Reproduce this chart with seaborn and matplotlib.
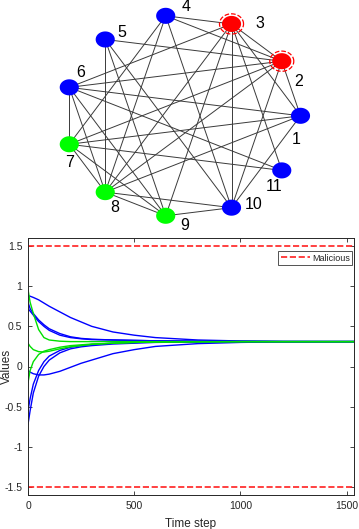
import numpy as np
import pandas as pd
import matplotlib
matplotlib.use('Agg')
import matplotlib.pyplot as plt
import seaborn as sns

# ---- network data ----
node_ids = [1, 2, 3, 4, 5, 6, 7, 8, 9, 10, 11]
node_roles = ['normal', 'malicious', 'malicious', 'normal', 'normal', 'normal',
              'leader', 'leader', 'leader', 'normal', 'normal']
edges = [(1, 2), (1, 3), (1, 6), (1, 7), (1, 8), (1, 10),
         (2, 3), (2, 4), (2, 5), (2, 6), (2, 7), (2, 8), (2, 10),
         (3, 4), (3, 6), (3, 8), (3, 9), (3, 10), (3, 11),
         (4, 7), (4, 8), (4, 10),
         (5, 8), (5, 9), (5, 10),
         (6, 7), (6, 8), (6, 9), (6, 11),
         (7, 8), (7, 9), (7, 11),
         (8, 9), (8, 10),
         (9, 10)]
# label offsets in pixels (dx, dy down)
label_offsets = [(-4, 24), (17, 20), (28, 0), (20, -9), (17, -7), (11, -15),
                 (0, 18), (10, 15), (19, 10), (22, -3), (-8, 16)]

# ---- time series data ----
time_steps = [0, 10, 25, 50, 75, 100, 150, 200, 250, 300, 400, 500, 600, 800, 1000, 1200, 1550]
blue_1 = [0.88, 0.875, 0.86, 0.83, 0.79, 0.75, 0.68, 0.61, 0.555, 0.50, 0.43, 0.39, 0.36, 0.33, 0.318, 0.312, 0.31]
blue_2 = [0.80, 0.72, 0.66, 0.58, 0.52, 0.47, 0.41, 0.37, 0.35, 0.34, 0.33, 0.325, 0.32, 0.315, 0.312, 0.31, 0.31]
blue_3 = [0.72, 0.69, 0.64, 0.56, 0.50, 0.45, 0.39, 0.36, 0.345, 0.335, 0.33, 0.325, 0.32, 0.315, 0.312, 0.31, 0.31]
blue_4 = [-0.05, -0.07, -0.09, -0.105, -0.105, -0.095, -0.06, -0.01, 0.04, 0.08, 0.16, 0.21, 0.25, 0.285, 0.30, 0.307, 0.31]
blue_5 = [-0.55, -0.40, -0.22, -0.05, 0.06, 0.13, 0.20, 0.24, 0.26, 0.275, 0.29, 0.30, 0.305, 0.308, 0.31, 0.31, 0.31]
blue_6 = [-0.72, -0.55, -0.33, -0.12, 0.0, 0.08, 0.17, 0.22, 0.245, 0.26, 0.28, 0.29, 0.30, 0.306, 0.309, 0.31, 0.31]
green_1 = [0.96, 0.80, 0.66, 0.46, 0.36, 0.33, 0.315, 0.31, 0.31, 0.31, 0.31, 0.31, 0.31, 0.31, 0.31, 0.31, 0.31]
green_2 = [0.29, 0.25, 0.21, 0.185, 0.18, 0.19, 0.22, 0.245, 0.26, 0.275, 0.29, 0.30, 0.305, 0.308, 0.31, 0.31, 0.31]
green_3 = [-0.2, -0.05, 0.06, 0.15, 0.19, 0.21, 0.24, 0.26, 0.27, 0.28, 0.29, 0.30, 0.305, 0.308, 0.31, 0.31, 0.31]
malicious_values = [1.5, -1.5]
malicious_time = [0, 1550]

role_colors = {'normal': '#0000ff', 'malicious': '#ff0000', 'leader': '#00ff00'}

sns.set_theme(style="ticks")
plt.rcParams['font.family'] = ['Liberation Sans', 'DejaVu Sans']

fig = plt.figure(figsize=(3.59, 5.29), dpi=100)

# ==========================
# network graph (circular layout)
# ==========================
ax_g = fig.add_axes([0, 1 - 232 / 529, 1, 232 / 529])
n = len(node_ids)
theta = 2 * np.pi * (np.array(node_ids) - 1) / n
pos = {k: (np.cos(t), np.sin(t)) for k, t in zip(node_ids, theta)}

for a, b in edges:
    ax_g.plot([pos[a][0], pos[b][0]], [pos[a][1], pos[b][1]],
              color='#3a3a3a', lw=0.7, zorder=1)

# ellipse-shaped marker
ang = np.linspace(0, 2 * np.pi, 60)
ell = np.column_stack([np.cos(ang), 0.84 * np.sin(ang)])

nodes = pd.DataFrame({'id': node_ids, 'role': node_roles,
                      'x': [pos[k][0] for k in node_ids],
                      'y': [pos[k][1] for k in node_ids]})
sns.scatterplot(data=nodes, x='x', y='y', hue='role', palette=role_colors,
                marker=ell, s=190, linewidth=0, legend=False, ax=ax_g, zorder=3)
mal = nodes[nodes['role'] == 'malicious']
ax_g.scatter(mal['x'], mal['y'], marker=ell, s=300, facecolors='none',
             edgecolors='#ff0000', linewidths=0.9, linestyles='--', zorder=4)

for k, (dx, dy) in zip(node_ids, label_offsets):
    ax_g.annotate(str(k), pos[k], xytext=(dx * 0.72, -dy * 0.72),
                  textcoords='offset points', ha='center', va='center',
                  fontsize=11.5, color='black')

ax_g.set_xlim(-182.5 / 118, 176.5 / 118)
ax_g.set_ylim(-116.2 / 101, 115.8 / 101)
ax_g.axis('off')

# ==========================
# consensus time series
# ==========================
ax = fig.add_axes([28 / 359, 34 / 529, 326 / 359, 257 / 529])

sns.lineplot(x=malicious_time, y=[malicious_values[0]] * 2, color='#ff2020',
             lw=1.2, linestyle='--', dashes=(5, 3), label='Malicious', ax=ax)
sns.lineplot(x=malicious_time, y=[malicious_values[1]] * 2, color='#ff2020',
             lw=1.2, linestyle='--', dashes=(5, 3), ax=ax)

for series in [blue_1, blue_2, blue_3, blue_4, blue_5, blue_6]:
    sns.lineplot(x=time_steps, y=series, color='#0000ff', lw=1.0, ax=ax)
for series in [green_1, green_2, green_3]:
    sns.lineplot(x=time_steps, y=series, color='#00e000', lw=1.0, ax=ax)

ax.set_xlim(0, 1535)
ax.set_ylim(-1.6, 1.6)
ax.set_xticks([0, 500, 1000, 1500])
ax.set_yticks([-1.5, -1, -0.5, 0, 0.5, 1, 1.5])
ax.set_yticklabels(['-1.5', '-1', '-0.5', '0', '0.5', '1', '1.5'])
ax.tick_params(direction='in', length=3, width=0.6, labelsize=7.5,
               colors='#262626', top=True, right=True, pad=4)
for sp in ax.spines.values():
    sp.set_visible(True)
    sp.set_color('#262626')
    sp.set_linewidth(0.7)
ax.set_xlabel('Time step', fontsize=8.5, color='#262626')
ax.set_ylabel('Values', fontsize=8.5, color='#262626')
ax.xaxis.set_label_coords(0.5, -0.088)
ax.yaxis.set_label_coords(-0.046, 0.5)

leg = ax.legend(loc='upper right', bbox_to_anchor=(0.995, 0.95), fontsize=6.5,
                frameon=True, fancybox=False, handlelength=3.2,
                borderpad=0.3, handletextpad=0.2, borderaxespad=0)
leg.get_frame().set_edgecolor('#262626')
leg.get_frame().set_linewidth(0.7)

fig.savefig('out.png', dpi=100)
